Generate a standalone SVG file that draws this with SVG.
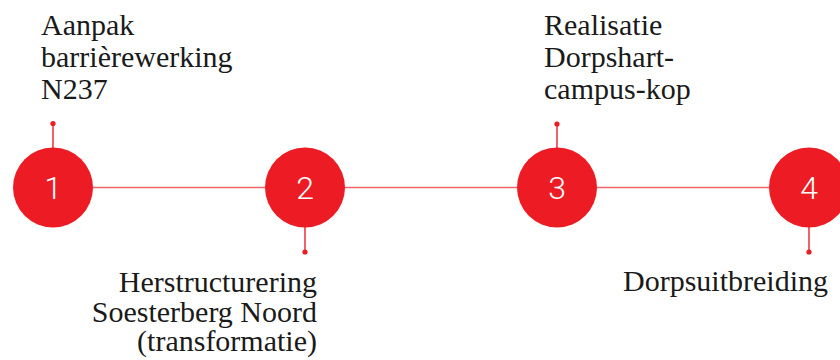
<svg xmlns="http://www.w3.org/2000/svg" width="840" height="360" viewBox="0 0 840 360">
<style>
.lbl{font-family:"Liberation Serif","Times New Roman",serif;font-size:30px;fill:#1a1a1a}
.end{text-anchor:end}
.node circle.big{fill:#ED1C24}
.num{font-family:Roboto,"Liberation Sans",sans-serif;font-weight:300;font-size:32px;fill:#ffffff;text-anchor:middle}
.conn{stroke:#F2646C;stroke-width:1.6;fill:none}
.stem{stroke:#EE3A42;stroke-width:1.6}
.dot{fill:#ED1C24}
</style>
<rect width="840" height="360" fill="#ffffff"/>
<g id="connectors">
<line class="conn" x1="53" y1="187.5" x2="809" y2="187.5"/>
<line class="stem" x1="53" y1="124" x2="53" y2="148"/>
<line class="stem" x1="305" y1="227" x2="305" y2="252"/>
<line class="stem" x1="557" y1="124" x2="557" y2="148"/>
<line class="stem" x1="809" y1="227" x2="809" y2="252"/>
<circle class="dot" cx="53" cy="123.5" r="2.6"/>
<circle class="dot" cx="305" cy="252" r="2.6"/>
<circle class="dot" cx="557" cy="124" r="2.6"/>
<circle class="dot" cx="809" cy="252" r="2.6"/>
</g>
<g id="node1" class="node">
<circle class="big" cx="53" cy="187.5" r="40"/>
<text class="num" x="53" y="199">1</text>
<text class="lbl" x="41" y="35">Aanpak</text>
<text class="lbl" x="41" y="67">barrièrewerking</text>
<text class="lbl" x="41" y="99">N237</text>
</g>
<g id="node2" class="node">
<circle class="big" cx="305" cy="187.5" r="40"/>
<text class="num" x="305" y="199">2</text>
<text class="lbl end" x="317" y="292">Herstructurering</text>
<text class="lbl end" x="317" y="322">Soesterberg Noord</text>
<text class="lbl end" x="317" y="351">(transformatie)</text>
</g>
<g id="node3" class="node">
<circle class="big" cx="557" cy="187.5" r="40"/>
<text class="num" x="557" y="199">3</text>
<text class="lbl" x="544" y="35">Realisatie</text>
<text class="lbl" x="544" y="67">Dorpshart-</text>
<text class="lbl" x="544" y="99">campus-kop</text>
</g>
<g id="node4" class="node">
<circle class="big" cx="809" cy="187.5" r="40"/>
<text class="num" x="809" y="199">4</text>
<text class="lbl end" x="828" y="291">Dorpsuitbreiding</text>
</g>
</svg>
